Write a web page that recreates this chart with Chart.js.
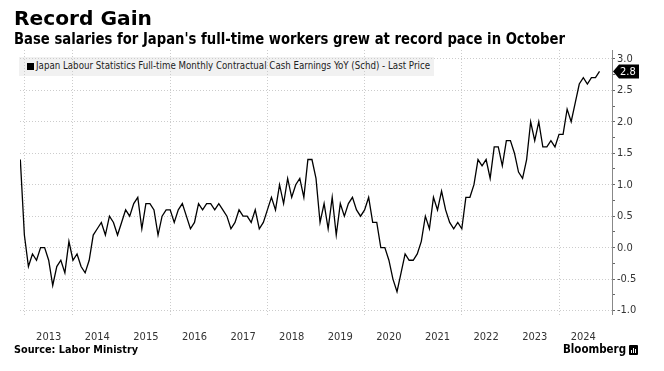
<!DOCTYPE html>
<html>
<head>
<meta charset="utf-8">
<script src="https://cdn.jsdelivr.net/npm/chart.js@4.4.1/dist/chart.umd.min.js"></script>
<style>
body { margin: 0; background: #fff; }
#wrap { position: relative; width: 664px; height: 371px; overflow: hidden; }
#canvas { position: absolute; left: 0; top: 0; }
.txt { position: absolute; white-space: nowrap; transform-origin: 0 0; font-family: "DejaVu Sans Condensed", "DejaVu Sans", sans-serif; }
#title { left: 14px; top: 6px; font-size: 20px; font-weight: bold; color: #000; }
#subtitle { left: 14px; top: 30px; font-size: 15px; font-weight: bold; color: #000; }
#legendBox { position: absolute; left: 19px; top: 57px; width: 415px; height: 19px; background: #f1f1f1; }
#legendSq { position: absolute; left: 27px; top: 63px; width: 7px; height: 7px; background: #000; }
#legendTxt { left: 36px; top: 60px; font-size: 10px; color: #222; }
#source { left: 14px; top: 344px; font-size: 10px; font-weight: bold; color: #000; }
#brand { left: 563px; top: 342px; font-size: 12px; font-weight: bold; color: #000; }
#logo { position: absolute; left: 629px; top: 345px; width: 9px; height: 10px; background: #000; border-radius: 1px; }
#logo i { position: absolute; bottom: 2px; width: 1px; background: #fff; }
</style>
</head>
<body>
<div id="wrap">
  <div id="legendBox"></div>
  <div id="legendSq"></div>
  <div class="txt" id="legendTxt" data-w="394">Japan Labour Statistics Full-time Monthly Contractual Cash Earnings YoY (Schd) - Last Price</div>
  <canvas id="canvas" width="664" height="371"></canvas>
  <div class="txt" id="title" data-w="138">Record Gain</div>
  <div class="txt" id="subtitle" data-w="551">Base salaries for Japan's full-time workers grew at record pace in October</div>
  <div class="txt" id="source" data-w="124">Source: Labor Ministry</div>
  <div class="txt" id="brand" data-w="63">Bloomberg</div>
  <div id="logo"><i style="left:2px;height:3px"></i><i style="left:4px;height:5px"></i><i style="left:6px;height:4px"></i></div>
</div>
<script>
// monthly YoY %, first value is Nov 2012, last is Oct 2024
var startYear = 2012, startMonth = 11;
var earningsYoY = [
  1.4, 0.2,
  -0.3, -0.1, -0.2, 0.0, 0.0, -0.2, -0.6, -0.3, -0.2, -0.4, 0.1, -0.2,   // 2013 Feb - 2014 Jan
  -0.1, -0.3, -0.4, -0.2, 0.2, 0.3, 0.4, 0.2, 0.5, 0.4, 0.2, 0.4,        // 2014 Feb - 2015 Jan
  0.6, 0.5, 0.7, 0.8, 0.3, 0.7, 0.7, 0.6, 0.2, 0.5, 0.6, 0.6,            // 2015 Feb - 2016 Jan
  0.4, 0.6, 0.7, 0.5, 0.3, 0.4, 0.7, 0.6, 0.7, 0.7, 0.6, 0.7,            // 2016 Feb - 2017 Jan
  0.6, 0.5, 0.3, 0.4, 0.6, 0.5, 0.5, 0.4, 0.6, 0.3, 0.4, 0.6,            // 2017 Feb - 2018 Jan
  0.8, 0.6, 1.0, 0.7, 1.1, 0.8, 1.0, 1.1, 0.8, 1.4, 1.4, 1.1,            // 2018 Feb - 2019 Jan
  0.4, 0.7, 0.3, 0.8, 0.2, 0.7, 0.5, 0.7, 0.8, 0.6, 0.5, 0.6,            // 2019 Feb - 2020 Jan
  0.8, 0.4, 0.4, 0.0, 0.0, -0.2, -0.5, -0.7, -0.4, -0.1, -0.2, -0.2,     // 2020 Feb - 2021 Jan
  -0.1, 0.1, 0.5, 0.3, 0.8, 0.6, 0.9, 0.6, 0.4, 0.3, 0.4, 0.3,           // 2021 Feb - 2022 Jan
  0.8, 0.8, 1.0, 1.4, 1.3, 1.4, 1.1, 1.6, 1.6, 1.3, 1.7, 1.7,            // 2022 Feb - 2023 Jan
  1.5, 1.2, 1.1, 1.4, 2.0, 1.7, 2.0, 1.6, 1.6, 1.7, 1.6, 1.8,            // 2023 Feb - 2024 Jan
  1.8, 2.2, 2.0, 2.3, 2.6, 2.7, 2.6, 2.7, 2.7, 2.8                       // 2024 Feb - Oct
];
var yearLabels = ['2013','2014','2015','2016','2017','2018','2019','2020','2021','2022','2023','2024'];
var gridYears = [2013, 2014, 2016, 2018, 2020, 2022, 2024];
var yTickValues = [-1.0, -0.75, -0.5, -0.25, 0.0, 0.25, 0.5, 0.75, 1.0, 1.25, 1.5, 1.75, 2.0, 2.25, 2.5, 2.75, 3.0];

// month labels like "2012-11"
var monthLabels = [];
for (var i = 0; i < earningsYoY.length; i++) {
  var m = startMonth - 1 + i;
  var yy = startYear + Math.floor(m / 12);
  var mm = (m % 12) + 1;
  monthLabels.push(yy + '-' + (mm < 10 ? '0' : '') + mm);
}

// points are dated at month end
var points = monthLabels.map(function (lab, i) {
  var p = lab.split('-');
  return { x: +p[0] + (+p[1]) / 12, y: earningsYoY[i] };
});

var fontFam = '"DejaVu Sans Condensed", "DejaVu Sans", sans-serif';

// solid right axis line + black tag with the last value
var axisAndTag = {
  id: 'axisAndTag',
  afterDraw: function (chart) {
    var ctx = chart.ctx;
    var a = chart.chartArea;
    var ys = chart.scales.y;
    ctx.save();
    ctx.strokeStyle = '#888';
    ctx.lineWidth = 1;
    ctx.setLineDash([]);
    ctx.beginPath();
    ctx.moveTo(a.right + 0.5, a.top);
    ctx.lineTo(a.right + 0.5, a.bottom);
    ctx.stroke();

    var v = earningsYoY[earningsYoY.length - 1];
    var y = ys.getPixelForValue(v);
    var x0 = a.right + 1;
    ctx.fillStyle = '#000';
    ctx.beginPath();
    ctx.moveTo(x0, y);
    ctx.lineTo(x0 + 6, y - 7);
    ctx.lineTo(x0 + 26, y - 7);
    ctx.lineTo(x0 + 26, y + 7);
    ctx.lineTo(x0 + 6, y + 7);
    ctx.closePath();
    ctx.fill();
    ctx.fillStyle = '#fff';
    ctx.font = '11px ' + fontFam;
    ctx.textBaseline = 'middle';
    ctx.fillText(v.toFixed(1), x0 + 7, y + 0.5);
    ctx.restore();
  }
};

window.onload = function () {
  var ctx = document.getElementById('canvas').getContext('2d');
  window.myChart = new Chart(ctx, {
    type: 'line',
    data: {
      datasets: [{
        label: 'Japan Labour Statistics Full-time Monthly Contractual Cash Earnings YoY (Schd) - Last Price',
        data: points,
        borderColor: '#000',
        borderWidth: 1.3,
        pointRadius: 0,
        tension: 0,
        fill: false
      }]
    },
    options: {
      responsive: false,
      animation: false,
      layout: { padding: { left: 20, top: 50, right: 0, bottom: 16 } },
      plugins: { legend: { display: false }, tooltip: { enabled: false } },
      scales: {
        x: {
          type: 'linear',
          min: 2012.91,
          max: 2025.09,
          afterBuildTicks: function (s) {
            var t = [];
            yearLabels.forEach(function (y) {
              t.push({ value: +y });
              t.push({ value: +y + 0.5 });
            });
            s.ticks = t;
          },
          afterFit: function (s) { s.height = 40; },
          ticks: {
            autoSkip: false,
            maxRotation: 0,
            padding: 16,
            color: '#333',
            font: { family: fontFam, size: 11 },
            callback: function (v) {
              return (v % 1 !== 0) ? yearLabels[Math.floor(v) - 2013] : '';
            }
          },
          grid: {
            drawTicks: false,
            color: function (c) {
              var v = c.tick ? c.tick.value : null;
              return gridYears.indexOf(v) >= 0 ? '#cccccc' : 'rgba(0,0,0,0)';
            },
            lineWidth: 1
          },
          border: { display: false, dash: [1, 2] }
        },
        y: {
          position: 'right',
          min: -1.07,
          max: 3.14,
          afterBuildTicks: function (s) {
            s.ticks = yTickValues.map(function (v) { return { value: v }; });
          },
          afterFit: function (s) { s.width = 52; },
          ticks: {
            autoSkip: false,
            padding: 2,
            color: '#333',
            font: { family: fontFam, size: 11 },
            callback: function (v) {
              return (Math.abs(v * 2 - Math.round(v * 2)) < 1e-6) ? v.toFixed(1) : '';
            }
          },
          grid: {
            color: function (c) {
              var v = c.tick ? c.tick.value : 0.25;
              return (Math.abs(v * 2 - Math.round(v * 2)) < 1e-6) ? '#cccccc' : 'rgba(0,0,0,0)';
            },
            tickColor: '#666',
            tickLength: 3,
            tickBorderDash: [],
            lineWidth: 1
          },
          border: { display: false, dash: [1, 2] }
        }
      }
    },
    plugins: [axisAndTag]
  });

  // squeeze the text blocks to the widths seen in the picture
  document.querySelectorAll('.txt').forEach(function (el) {
    var w = el.getBoundingClientRect().width;
    var target = +el.getAttribute('data-w');
    if (w > 0 && target) el.style.transform = 'scaleX(' + (target / w) + ')';
  });
};
</script>
</body>
</html>
